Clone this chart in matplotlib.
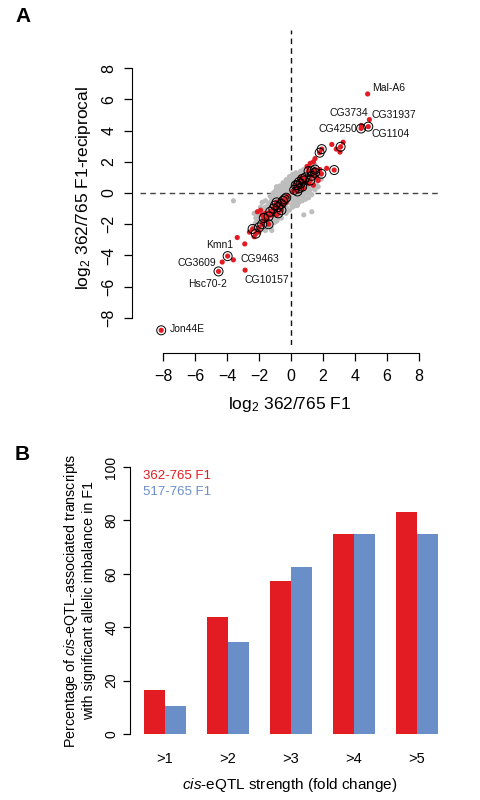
import matplotlib
matplotlib.use("Agg")
import matplotlib.pyplot as plt

plt.rcParams['font.family'] = ['Liberation Sans', 'DejaVu Sans']
plt.rcParams['mathtext.fontset'] = 'custom'
plt.rcParams['mathtext.rm'] = 'Liberation Sans'
plt.rcParams['mathtext.it'] = 'Liberation Sans:italic'

RED = '#E31B23'
BLUE = '#6A8FC8'

# ---- panel A data ----
gray_pts = [
 (-2.0,-1.8),(-2.0,-2.2),(-2.05,-1.5),(-1.8,-1.2),(-1.85,-1.6),(-1.8,-2.0),(-1.75,-2.3),
 (-1.6,-0.9),(-1.65,-1.3),(-1.6,-1.7),(-1.55,-2.0),(-1.6,-2.4),(-1.4,-0.7),(-1.45,-1.0),
 (-1.4,-1.4),(-1.35,-1.8),(-1.4,-2.1),(-1.2,-0.4),(-1.25,-0.8),(-1.2,-1.1),(-1.15,-1.5),
 (-1.2,-1.9),(-1.25,-2.2),(-1.0,-0.2),(-1.05,-0.5),(-1.0,-0.9),(-0.95,-1.2),(-1.0,-1.6),
 (-1.05,-1.9),(-0.8,0.1),(-0.85,-0.3),(-0.8,-0.6),(-0.75,-1.0),(-0.8,-1.3),(-0.85,-1.7),
 (-0.6,0.3),(-0.65,0.0),(-0.6,-0.4),(-0.55,-0.7),(-0.6,-1.1),(-0.65,-1.4),(-0.4,0.5),
 (-0.45,0.2),(-0.4,-0.1),(-0.35,-0.5),(-0.4,-0.8),(-0.45,-1.2),(-0.2,0.7),(-0.25,0.4),
 (-0.2,0.1),(-0.15,-0.3),(-0.2,-0.6),(-0.25,-1.0),(0.0,0.9),(0.05,0.6),(0.0,0.2),
 (-0.05,-0.1),(0.0,-0.4),(0.05,-0.8),(0.2,1.0),(0.25,0.7),(0.2,0.4),(0.15,0.1),(0.2,-0.3),
 (0.25,-0.6),(0.4,1.2),(0.45,0.9),(0.4,0.5),(0.35,0.2),(0.4,-0.1),(0.45,-0.4),(0.6,1.4),
 (0.65,1.0),(0.6,0.7),(0.55,0.4),(0.6,0.0),(0.65,-0.3),(0.8,1.5),(0.85,1.2),(0.8,0.9),
 (0.75,0.5),(0.8,0.2),(0.85,-0.1),(1.0,1.6),(1.05,1.3),(1.0,1.0),(0.95,0.7),(1.0,0.3),
 (1.05,0.0),(1.2,1.5),(1.25,1.2),(1.2,0.9),(1.15,0.5),(1.2,0.2),(1.4,1.4),(1.45,1.1),
 (1.4,0.7),(1.35,0.4),(1.6,1.2),(1.65,0.8),(1.6,0.5),
 (-1.9,-1.4),(-1.7,-1.0),(-1.5,-1.2),(-1.3,-0.6),(-1.1,-0.7),(-0.9,-0.1),(-0.7,-0.2),
 (-0.5,0.1),(-0.3,0.3),(-0.1,0.5),(0.1,0.7),(0.3,0.9),(0.5,1.1),(0.7,1.2),(0.9,1.3),
 (1.1,1.1),(1.3,0.9),(1.5,0.9),(-1.5,-1.9),(-1.1,-1.7),(-0.7,-1.3),(-0.3,-0.9),
 (0.1,-0.5),(0.5,-0.2),(0.9,0.1),(1.3,0.6),(-0.9,-1.0),(-0.5,-0.3),(-0.1,0.0),
 (0.3,0.0),(0.7,0.3),(1.1,0.8),(-1.3,-1.3),(-0.7,-0.8),(0.1,0.3),(0.5,0.6),
 (-1.3,-0.2),(-1.1,0.0),(-0.9,0.25),(-0.7,0.45),(-0.5,0.65),(-0.3,0.85),(-0.1,1.05),
 (0.1,1.2),(0.3,1.3),(-1.6,-0.5),(-1.9,-0.9),(-0.3,-1.3),(-0.1,-1.1),(0.1,-0.9),
 (0.3,-0.8),(0.5,-0.6),(0.7,-0.5),(0.9,-0.4),(1.1,-0.3),(1.3,-0.1),(1.5,0.2),(1.7,0.4),
 (-0.6,-1.6),(-0.9,-1.8),(-1.2,-2.4),(1.8,1.0),(1.7,1.5),(-2.2,-1.6),(-2.3,-2.1),
 (-3.6,-0.5),(0.8,-1.4),(1.3,-1.2),(-1.8,-0.6),(-2.3,-1.3),(1.9,0.9),(-0.9,0.4),(1.5,1.8),
 (-2.2,-1.9),(1.8,1.3),(-1.0,0.1),(0.4,-0.8),
]
red_pts = [
 (-2.6,-2.5),(-2.3,-2.8),(-2.0,-2.5),(-1.9,-1.1),(-1.8,-1.4),(-1.7,-1.8),(-1.6,-1.3),
 (-2.1,-1.2),(-1.5,-1.7),(-1.2,-1.4),(-1.0,-1.2),(-0.9,-1.4),(-0.7,-0.5),(-0.5,-0.8),
 (-0.3,-0.6),(-0.2,-0.2),(0.1,0.1),(0.3,0.3),(0.6,1.0),(0.9,0.7),(1.0,1.7),(1.2,1.9),
 (1.4,2.0),(1.5,2.2),(1.6,1.0),(1.7,0.8),(1.8,1.5),(2.23,1.58),(1.4,0.5),(1.1,0.6),
 (0.8,0.3),(-3.36,-2.85),(-2.89,-3.26),(2.55,3.11),(3.26,3.25),(3.06,2.62),(2.83,2.81),
 (4.79,6.34),(4.9,4.7),(4.4,4.32),(-3.6,-4.28),(-4.3,-4.42),(-2.87,-4.94),
]
circ_pts = [
 (-2.4,-2.3),(-2.2,-2.6),(-2.0,-2.2),(-1.8,-2.0),(-1.7,-1.6),(-1.4,-1.5),(-1.3,-1.2),
 (-1.1,-1.0),(-1.0,-0.8),(-0.9,-0.6),(-0.8,-0.9),(-0.6,-0.7),(-0.5,-0.5),(-0.4,-0.4),
 (-0.3,-0.3),(-0.6,-1.1),(-1.4,-2.0),(-0.8,-1.3),(0.2,0.2),(0.3,0.5),(0.4,0.5),(0.5,0.7),
 (0.6,0.6),(0.7,0.9),(0.8,0.8),(0.9,1.0),(0.5,0.3),(0.7,0.4),(1.1,1.4),(1.3,1.4),
 (1.5,1.5),(1.3,1.1),(1.2,0.8),(1.9,1.23),(2.7,1.47),(1.92,2.81),(1.79,2.58),(3.1,2.96),
 (4.38,4.13),(4.83,4.25),(-3.96,-4.04),(-4.53,-5.02),(-8.11,-8.79),(1.5,1.3),(0.4,0.1),
]
gene_labels = [
 ("Mal-A6", 5.05, 6.75),
 ("CG31937", 5.05, 5.0),
 ("CG3734", 2.4, 5.1),
 ("CG4250", 1.7, 4.1),
 ("CG1104", 5.05, 3.75),
 ("Kmn1", -5.3, -3.3),
 ("CG9463", -3.15, -4.2),
 ("CG3609", -7.1, -4.45),
 ("Hsc70-2", -6.4, -5.85),
 ("CG10157", -2.9, -5.55),
 ("Jon44E", -7.55, -8.7),
]
ticksA = [-8, -6, -4, -2, 0, 2, 4, 6, 8]

# ---- panel B data ----
categories = [">1", ">2", ">3", ">4", ">5"]
f1_362 = [16.5, 43.8, 57.2, 75.0, 83.3]
f1_517 = [10.5, 34.6, 62.5, 75.0, 75.0]

fig = plt.figure(figsize=(4.8, 8.0), dpi=100)

# ---------- Panel A ----------
ax = fig.add_axes([140/480, 1-345/800, 300/480, 315/800])
ax.set_xlim(-8 - 23/16, 8 + 21/16)
ax.set_ylim(-8 - 27/15.6, 8 + 38/15.6)
ax.axhline(0, color='#444444', ls=(0, (4, 3)), lw=1.0, zorder=1)
ax.axvline(0, color='#111111', ls=(0, (4, 3)), lw=1.0, zorder=1)
ax.scatter([p[0] for p in gray_pts], [p[1] for p in gray_pts], s=14, color='#BDBDBD',
           edgecolors='none', zorder=2)
ax.scatter([p[0] for p in red_pts], [p[1] for p in red_pts], s=14, color=RED,
           edgecolors='none', zorder=3)
ax.scatter([p[0] for p in circ_pts], [p[1] for p in circ_pts], s=14, color=RED,
           edgecolors='none', zorder=3)
ax.scatter([p[0] for p in circ_pts], [p[1] for p in circ_pts], s=42, facecolors='none',
           edgecolors='black', linewidths=0.7, zorder=4)
for name, tx, ty in gene_labels:
    ax.text(tx, ty, name, fontsize=7.5, ha='left', va='center', color='#111111')
for s in ['top', 'right']:
    ax.spines[s].set_visible(False)
ax.spines['left'].set_position(('outward', 6))
ax.spines['bottom'].set_position(('outward', 6))
ax.spines['left'].set_bounds(-8, 8)
ax.spines['bottom'].set_bounds(-8, 8)
ax.set_xticks(ticksA)
ax.set_yticks(ticksA)
ax.set_xticklabels([str(t).replace('-', '\u2212') for t in ticksA], fontsize=11.5)
ax.set_yticklabels([str(t).replace('-', '\u2212') for t in ticksA], fontsize=11.5,
                   rotation=90, va='center')
ax.tick_params(direction='out', length=6, width=0.9, pad=5)
ax.set_xlabel(r'log$_{2}$ 362/765 F1', fontsize=12.5, labelpad=8)
ax.set_ylabel(r'log$_{2}$ 362/765 F1-reciprocal', fontsize=12.5, labelpad=6)

# ---------- Panel B ----------
bx = fig.add_axes([140/480, 1-734/800, 300/480, 267/800])
xs_red = [1.5 + 3*i for i in range(len(categories))]
xs_blue = [2.5 + 3*i for i in range(len(categories))]
bx.bar(xs_red, f1_362, width=1.0, color=RED, edgecolor='none')
bx.bar(xs_blue, f1_517, width=1.0, color=BLUE, edgecolor='none')
bx.set_xlim(1 - 4/21, 1 + 300/21 - 4/21)
bx.set_ylim(0, 100)
for s in ['top', 'right', 'bottom']:
    bx.spines[s].set_visible(False)
bx.spines['left'].set_position(('outward', 7))
bx.set_yticks([0, 20, 40, 60, 80, 100])
bx.set_yticklabels(['0', '20', '40', '60', '80', '100'], fontsize=10, rotation=90, va='center')
bx.set_xticks([2 + 3*i for i in range(len(categories))])
bx.set_xticklabels(categories, fontsize=10.5)
bx.tick_params(axis='x', length=0, pad=13)
bx.tick_params(axis='y', direction='out', length=5, width=0.9)
bx.set_xlabel(r'$\it{cis}$-eQTL strength (fold change)', fontsize=11, labelpad=7)
bx.set_ylabel('Percentage of $\\it{cis}$-eQTL-associated transcripts\nwith significant allelic imbalance in F1',
              fontsize=10.3, labelpad=6)
bx.text(0.97, 96.5, '362-765 F1', color=RED, fontsize=9.5, va='center')
bx.text(0.97, 90.5, '517-765 F1', color=BLUE, fontsize=9.5, va='center')

fig.text(15/480, 1-17/800, 'A', fontsize=15, fontweight='bold', va='center')
fig.text(15/480, 1-455/800, 'B', fontsize=15, fontweight='bold', va='center')

fig.savefig('out.png', dpi=100)
